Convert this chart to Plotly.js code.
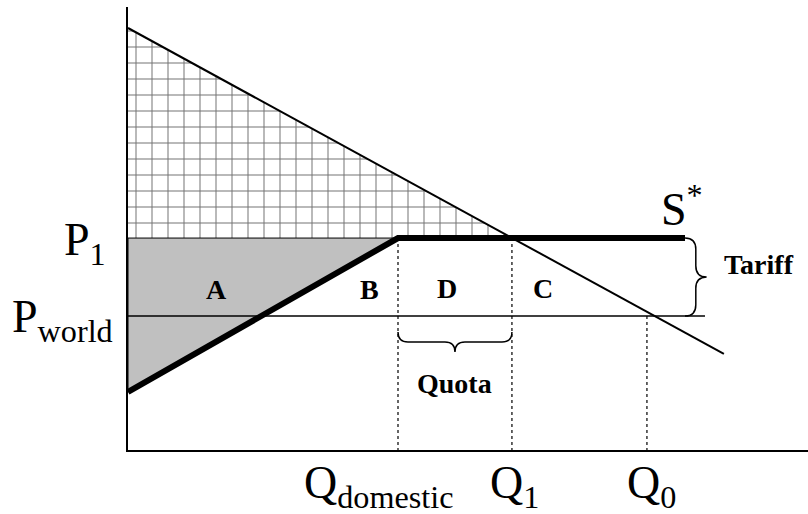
<!DOCTYPE html>
<html>
<head>
<meta charset="utf-8">
<script src="https://cdn.plot.ly/plotly-3.0.1.min.js"></script>
<style>
  body { margin: 0; background: #fff; }
  #plot { width: 808px; height: 514px; }
</style>
</head>
<body>
<div id="plot"></div>
<script>
// Tariff vs quota diagram (1 unit ~ 27 px)
var demandQ = [0, 22.07];
var demandP = [15.63, 3.56];
var supplyQ = [0, 10.0, 20.63];
var supplyP = [2.15, 7.85, 7.85];
var pWorld = 4.96;
var p1 = 7.85;
var qDomestic = 10.0;
var q1 = 14.22;
var q0 = 19.22;
var worldLineEnd = 21.37;
var regionNames = ["A", "B", "D", "C"];

// where the letters sit inside the areas
var regionX = [3.26, 8.96, 11.82, 15.37];
var regionY = [5.95, 5.95, 6.0, 6.0];

var serif = "Liberation Serif, Times New Roman, serif";

// consumer surplus at the tariff price (checked area)
var surplusArea = {
  x: [0, 0, q1, 0],
  y: [demandP[0], p1, p1, demandP[0]],
  mode: "lines",
  fill: "toself",
  fillcolor: "white",
  fillpattern: { shape: "+", fgcolor: "#707070", bgcolor: "white", size: 16, solidity: 0.12 },
  line: { width: 0 },
  hoverinfo: "skip"
};

// producer surplus (gray)
var producerArea = {
  x: [0, supplyQ[1], supplyQ[0], 0],
  y: [p1, p1, supplyP[0], p1],
  mode: "lines",
  fill: "toself",
  fillcolor: "#c0c0c0",
  line: { color: "black", width: 1 },
  hoverinfo: "skip"
};

var worldLine = {
  x: [0, worldLineEnd],
  y: [pWorld, pWorld],
  mode: "lines",
  line: { color: "black", width: 1.5 }
};

function dropLine(q, top) {
  return {
    x: [q, q],
    y: [top, 0],
    mode: "lines",
    line: { color: "black", width: 1.2, dash: "dot" }
  };
}

var demand = {
  x: demandQ,
  y: demandP,
  mode: "lines",
  line: { color: "black", width: 2 }
};

var supply = {
  x: supplyQ,
  y: supplyP,
  mode: "lines",
  line: { color: "black", width: 6 }
};

var data = [surplusArea, producerArea, worldLine,
  dropLine(qDomestic, p1), dropLine(q1, p1), dropLine(q0, pWorld),
  demand, supply];

// curly braces built from the data values
var bx = supplyQ[2], bw = 0.8, br = 0.42;
var bm = (p1 + pWorld) / 2, bxm = bx + bw / 2;
var tariffBrace = "M" + bx + "," + p1 +
  " Q" + bxm + "," + p1 + " " + bxm + "," + (p1 - br) +
  " L" + bxm + "," + (bm + br) +
  " Q" + bxm + "," + bm + " " + (bx + bw) + "," + bm +
  " Q" + bxm + "," + bm + " " + bxm + "," + (bm - br) +
  " L" + bxm + "," + (pWorld + br) +
  " Q" + bxm + "," + pWorld + " " + bx + "," + pWorld;

var qy = 4.37, qh = 0.74, qr = 0.37;
var qym = qy - qh / 2, qmid = (qDomestic + q1) / 2;
var quotaBrace = "M" + qDomestic + "," + qy +
  " Q" + qDomestic + "," + qym + " " + (qDomestic + qr) + "," + qym +
  " L" + (qmid - qr) + "," + qym +
  " Q" + qmid + "," + qym + " " + qmid + "," + (qy - qh) +
  " Q" + qmid + "," + qym + " " + (qmid + qr) + "," + qym +
  " L" + (q1 - qr) + "," + qym +
  " Q" + q1 + "," + qym + " " + q1 + "," + qy;

var annotations = [];
regionNames.forEach(function (name, i) {
  annotations.push({
    x: regionX[i], y: regionY[i], xref: "x", yref: "y",
    text: name, showarrow: false,
    font: { family: serif, size: 28, color: "black", weight: "bold" }
  });
});

var big = { family: serif, size: 46, color: "black" };

// quantity labels under the axis
[["Q<sub>domestic</sub>", qDomestic, -20], ["Q<sub>1</sub>", q1, 3], ["Q<sub>0</sub>", q0, 5]]
  .forEach(function (t) {
    annotations.push({
      x: t[1], y: 0, xref: "x", yref: "paper", yanchor: "top", xanchor: "center",
      xshift: t[2], yshift: -5, text: t[0], showarrow: false, font: big
    });
  });

// price labels left of the axis
[["P<sub>1</sub>", p1, -20, -5], ["P<sub>world</sub>", pWorld, -13, -4]]
  .forEach(function (t) {
    annotations.push({
      x: 0, y: t[1], xref: "paper", yref: "y", xanchor: "right", yanchor: "middle",
      xshift: t[2], yshift: t[3], text: t[0], showarrow: false, font: big
    });
  });

annotations.push({
  x: supplyQ[2], y: p1, xref: "x", yref: "y", xanchor: "center", yanchor: "bottom",
  xshift: -3, yshift: 1, text: "S<sup>*</sup>", showarrow: false, font: big
});
annotations.push({
  x: bx + bw, y: bm, xref: "x", yref: "y", xanchor: "center", yanchor: "middle",
  xshift: 52, yshift: 13, text: "Tariff", showarrow: false,
  font: { family: serif, size: 28, color: "black", weight: "bold" }
});
annotations.push({
  x: qmid, y: qy - qh, xref: "x", yref: "y", xanchor: "center", yanchor: "top",
  yshift: -14, text: "Quota", showarrow: false,
  font: { family: serif, size: 28, color: "black", weight: "bold" }
});

var layout = {
  width: 808,
  height: 514,
  margin: { l: 128, r: 0, t: 7, b: 64 },
  paper_bgcolor: "white",
  plot_bgcolor: "white",
  showlegend: false,
  hovermode: false,
  xaxis: {
    range: [0, 680 / 27], showline: true, linecolor: "black", linewidth: 2,
    showgrid: false, zeroline: false, showticklabels: false, ticks: ""
  },
  yaxis: {
    range: [0, 443 / 27], showline: true, linecolor: "black", linewidth: 2,
    showgrid: false, zeroline: false, showticklabels: false, ticks: ""
  },
  shapes: [
    { type: "path", xref: "x", yref: "y", path: tariffBrace, line: { color: "black", width: 1.5 } },
    { type: "path", xref: "x", yref: "y", path: quotaBrace, line: { color: "black", width: 1.5 } }
  ],
  annotations: annotations
};

Plotly.newPlot("plot", data, layout, { staticPlot: true });
</script>
</body>
</html>
